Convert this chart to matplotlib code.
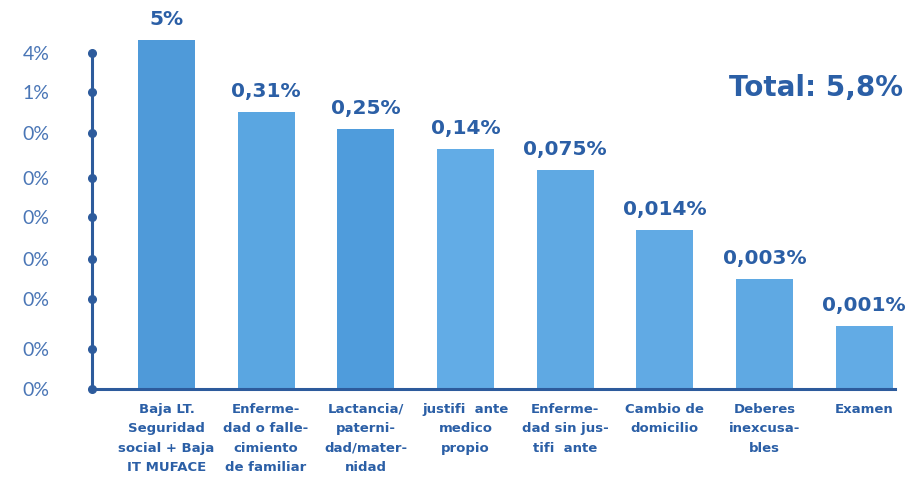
import matplotlib
matplotlib.use("Agg")
import matplotlib.pyplot as plt
import numpy as np

# ---- data ----
categories = [
    "Baja LT.\nSeguridad\nsocial + Baja\nIT MUFACE",
    "Enferme-\ndad o falle-\ncimiento\nde familiar",
    "Lactancia/\npaterni-\ndad/mater-\nnidad",
    "justifi  ante\nmedico\npropio",
    "Enferme-\ndad sin jus-\ntifi  ante",
    "Cambio de\ndomicilio",
    "Deberes\ninexcusa-\nbles",
    "Examen",
]
value_labels = ["5%", "0,31%", "0,25%", "0,14%", "0,075%", "0,014%", "0,003%", "0,001%"]
# displayed bar heights (in axis units as drawn in the reference)
bar_heights = [8.31, 6.60, 6.19, 5.71, 5.21, 3.79, 2.62, 1.50]
# y-axis tick positions and their (rounded) labels
tick_positions = [8.0, 7.07, 6.10, 5.02, 4.10, 3.10, 2.14, 0.95, 0.0]
tick_labels = ["4%", "1%", "0%", "0%", "0%", "0%", "0%", "0%", "0%"]
total_label = "Total: 5,8%"

# ---- style ----
W, H = 924, 484
DARK = "#2b5fa6"
AXIS = "#2d5b9c"
TICK = "#4a76b6"
BAR_COLORS = ["#4f9ad9", "#5aa6e1", "#4f9cdc", "#62ace6", "#5fa9e3", "#61aae4", "#5fa9e3", "#62abe5"]

fig = plt.figure(figsize=(W / 100, H / 100), dpi=100)
left_px, right_px = 92, 895
base_px, top_px = 389, 40
ax = fig.add_axes([left_px / W, 1 - base_px / H, (right_px - left_px) / W, (base_px - top_px) / H])

x = np.arange(len(categories))
ax.bar(x, bar_heights, width=0.57, color=BAR_COLORS, zorder=2)
ax.set_xlim(-0.747, 7.31)
ax.set_ylim(0, 8.31)

for xi, h, lab in zip(x, bar_heights, value_labels):
    ax.annotate(lab, (xi, h), xytext=(0, 8), textcoords="offset points",
                ha="center", va="bottom", fontsize=14.5, fontweight="bold",
                color=DARK, family="DejaVu Sans", annotation_clip=False)

for s in ["top", "right"]:
    ax.spines[s].set_visible(False)
ax.spines["left"].set_bounds(0, tick_positions[0])
ax.spines["left"].set_color(AXIS)
ax.spines["left"].set_linewidth(2.2)
ax.spines["bottom"].set_color(AXIS)
ax.spines["bottom"].set_linewidth(2.2)
ax.spines["left"].set_zorder(3)

ax.set_yticks(tick_positions)
ax.set_yticklabels(tick_labels, fontsize=14, color=TICK, family=["Lato", "DejaVu Sans"])
ax.tick_params(axis="y", length=0, pad=50)
for t in ax.get_yticklabels():
    t.set_horizontalalignment("left")
ax.plot([ax.get_xlim()[0]] * len(tick_positions), tick_positions, "o",
        color=AXIS, markersize=5.5, clip_on=False, zorder=4)

ax.set_xticks(x)
ax.set_xticklabels(categories, fontsize=9.5, fontweight="bold", color=DARK,
                   linespacing=1.65, family="DejaVu Sans")
ax.tick_params(axis="x", length=0, pad=10)

fig.text(903 / W, 1 - 88 / H, total_label, ha="right", va="center",
         fontsize=20, fontweight="bold", color=DARK, family="DejaVu Sans")

fig.savefig("out.png", dpi=100)
